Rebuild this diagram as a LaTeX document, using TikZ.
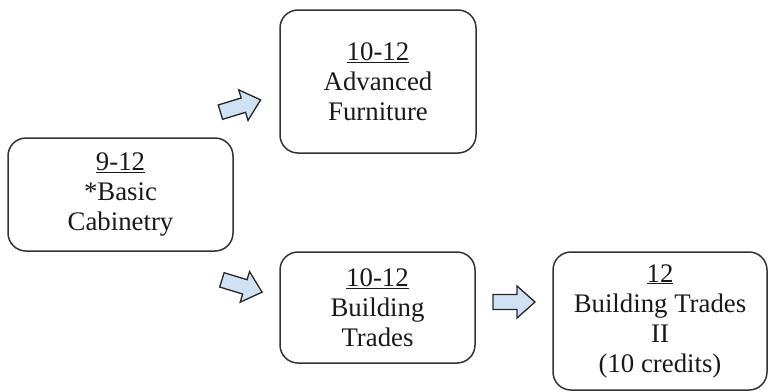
\documentclass[tikz,border=0pt]{standalone}
\usepackage{fontspec}
\setmainfont{Liberation Serif}
\definecolor{arrowfill}{HTML}{CFE2F3}
\definecolor{edge}{HTML}{333333}
\tikzset{
  course/.style={draw=edge, line width=1.5pt, rounded corners=18pt, align=center,
    inner sep=0pt, font=\fontsize{26.8}{30}\selectfont, text=black!90},
  blockarrow/.style={draw=black!85, fill=arrowfill, line width=1.3pt, line join=miter}
}
\newcommand{\blockarrowpath}{(-21,-7.5) -- (3,-7.5) -- (3,-16) -- (21,0) -- (3,16) -- (3,7.5) -- (-21,7.5) -- cycle}
\begin{document}
\begin{tikzpicture}[x=1pt,y=-1pt]
\useasboundingbox (0,0) rectangle (770,391);
\node[course, minimum width=225pt, minimum height=113pt] (cab) at (120.5,194.5)
  {\underline{9-12}\\*Basic\\Cabinetry};
\node[course, minimum width=196pt, minimum height=143pt] (adv) at (378,81.5)
  {\underline{10-12}\\Advanced\\Furniture};
\node[course, minimum width=195pt, minimum height=111pt] (bt) at (377.5,307.5)
  {\underline{10-12}\\Building\\Trades};
\node[course, minimum width=214pt, minimum height=138pt] (bt2) at (660,321)
  {\underline{12}\\Building Trades\\II\\(10 credits)};
\begin{scope}[shift={(240.5,106)}, rotate=17]
  \coordinate (a1) at (0,0);
  \draw[blockarrow] \blockarrowpath;
\end{scope}
\begin{scope}[shift={(242,286)}, rotate=-17]
  \coordinate (a2) at (0,0);
  \draw[blockarrow] \blockarrowpath;
\end{scope}
\begin{scope}[shift={(514,302)}]
  \coordinate (a3) at (0,0);
  \draw[blockarrow] \blockarrowpath;
\end{scope}
\end{tikzpicture}
\end{document}
